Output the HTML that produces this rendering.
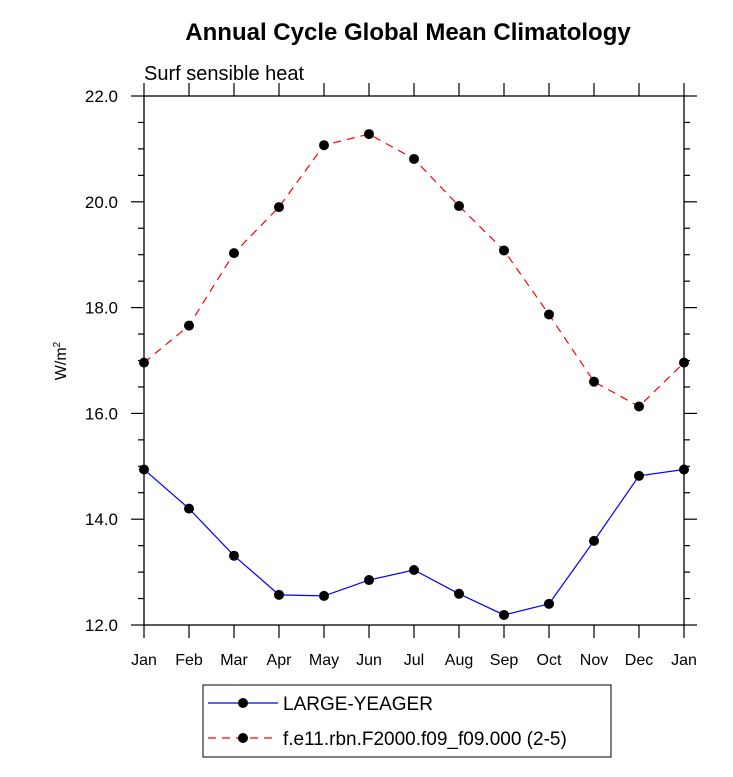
<!DOCTYPE html>
<html><head><meta charset="utf-8"><style>
body{margin:0;background:#fff}
svg{display:block;font-family:"Liberation Sans",Arial,sans-serif}
</style></head><body>
<svg id="chart" width="733" height="777" viewBox="0 0 733 777">
<text x="408" y="40" text-anchor="middle" font-size="24" font-weight="bold">Annual Cycle Global Mean Climatology</text>
<text x="144" y="80" font-size="20">Surf sensible heat</text>
<text transform="translate(66,361) rotate(-90)" text-anchor="middle" font-size="16">W/m<tspan dy="-6" font-size="10">2</tspan></text>
<g id="axes"></g>
<g id="series"></g>
<g>
<rect x="203" y="685" width="408" height="72" fill="#fff" stroke="#000" stroke-width="1"/>
<line x1="208" y1="703" x2="278" y2="703" stroke="#0000ff" stroke-width="1.2"/>
<circle cx="243" cy="703" r="5" fill="#000"/>
<text x="283" y="710" font-size="19">LARGE-YEAGER</text>
<line x1="208" y1="738" x2="278" y2="738" stroke="#ff0000" stroke-width="1.2" stroke-dasharray="8,6"/>
<circle cx="243" cy="738" r="5" fill="#000"/>
<text x="283" y="745" font-size="19">f.e11.rbn.F2000.f09_f09.000 (2-5)</text>
</g>
</svg>
<script>
const months = ["Jan","Feb","Mar","Apr","May","Jun","Jul","Aug","Sep","Oct","Nov","Dec","Jan"];
const yTicks = [12,14,16,18,20,22];
const largeYeager = [14.94,14.20,13.31,12.57,12.55,12.85,13.04,12.59,12.19,12.40,13.59,14.82,14.94];
const fe11 = [16.96,17.66,19.03,19.90,21.07,21.28,20.81,19.92,19.08,17.87,16.60,16.13,16.96];

const X0=144,X1=684,Y0=625,Y1=96,YMIN=12,YMAX=22;
const xs=i=>X0+(X1-X0)*i/(months.length-1);
const ys=v=>Y0-(Y0-Y1)*(v-YMIN)/(YMAX-YMIN);
const NS="http://www.w3.org/2000/svg";
function mk(tag,attrs,parent){const e=document.createElementNS(NS,tag);for(const k in attrs)e.setAttribute(k,attrs[k]);parent.appendChild(e);return e;}
const ax=document.getElementById('axes');
const frame=mk('rect',{x:X0,y:Y1,width:X1-X0,height:Y0-Y1,fill:'none',stroke:'#000','stroke-width':1.3},ax);


months.forEach((m,i)=>{
  const x=xs(i);
  const t=mk('line',{x1:x,y1:Y0,x2:x,y2:Y0+13,stroke:'#000','stroke-width':1.2},ax);
  
  
  const t2=mk('line',{x1:x,y1:Y1,x2:x,y2:Y1-13,stroke:'#000','stroke-width':1.2},ax);
  
  
  const l=mk('text',{x:x,y:665,'text-anchor':'middle','font-size':16},ax);
  l.textContent=m;
  
  
});
for(let v=YMIN;v<=YMAX+1e-9;v+=0.5){
  const y=ys(v);const major=Math.abs(v-Math.round(v))<1e-9&&Math.round(v)%2===0;
  const len=major?13:6;
  const a=mk('line',{x1:X0-len,y1:y,x2:X0,y2:y,stroke:'#000','stroke-width':1.2},ax);
  
  
  const b=mk('line',{x1:X1,y1:y,x2:X1+len,y2:y,stroke:'#000','stroke-width':1.2},ax);
  
  
}
yTicks.forEach(v=>{
  const l=mk('text',{x:118,y:ys(v)+6,'text-anchor':'end','font-size':17},ax);
  l.textContent=v.toFixed(1);
  
  
});
const sg=document.getElementById('series');
function series(data,color,dash,name){
  const p=mk('polyline',{points:data.map((v,i)=>xs(i)+','+ys(v)).join(' '),fill:'none',stroke:color,'stroke-width':1.2,'stroke-dasharray':dash},sg);
  
  
  data.forEach((v,i)=>{
    const c=mk('circle',{cx:xs(i),cy:ys(v),r:5,fill:'#000'},sg);
    
    
  });
}
series(largeYeager,'#0000ff','none','large-yeager');
series(fe11,'#ff0000','8,6','f-e11');
</script>
</body></html>
